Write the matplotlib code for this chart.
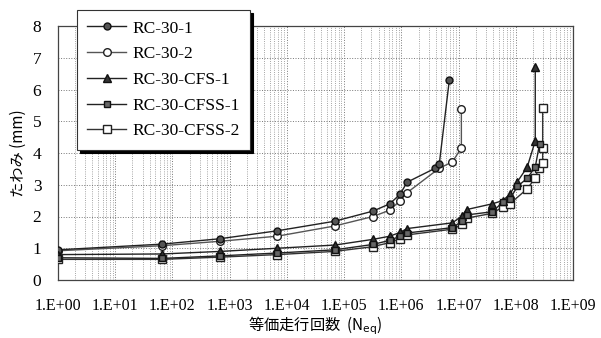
"""
    たわみ vs 等価走行回数 (log scale) for the RC-30 specimens
"""

import matplotlib
matplotlib.use("Agg")
from matplotlib import pyplot as plt

# equivalent running counts (N_eq) and deflections (mm)
n_rc1 = [1, 66, 680, 6800, 68000, 3.2e5, 6.3e5, 9.5e5, 1.26e6, 3.9e6, 4.6e6, 6.9e6]
d_rc1 = [0.95, 1.13, 1.30, 1.55, 1.85, 2.17, 2.40, 2.70, 3.08, 3.52, 3.65, 6.30]

n_rc2 = [1, 66, 680, 6800, 68000, 3.2e5, 6.3e5, 9.5e5, 1.26e6, 4.6e6, 7.8e6, 1.12e7, 1.12e7]
d_rc2 = [0.92, 1.08, 1.22, 1.38, 1.70, 2.00, 2.20, 2.50, 2.75, 3.52, 3.72, 4.16, 5.40]

n_cfs1 = [1, 66, 680, 6800, 68000, 3.2e5, 6.3e5, 9.5e5, 1.26e6, 7.8e6, 1.15e7, 1.4e7,
          3.9e7, 5.9e7, 7.9e7, 1.07e8, 1.58e8, 2.19e8, 2.19e8]
d_cfs1 = [0.80, 0.82, 0.90, 1.00, 1.10, 1.28, 1.38, 1.50, 1.62, 1.80, 2.02, 2.22,
          2.40, 2.50, 2.70, 3.10, 3.55, 4.38, 6.70]

n_cfss1 = [1, 66, 680, 6800, 68000, 3.2e5, 6.3e5, 9.5e5, 1.26e6, 7.8e6, 1.15e7, 1.4e7,
           3.9e7, 5.9e7, 7.9e7, 1.07e8, 1.58e8, 2.19e8, 2.6e8]
d_cfss1 = [0.70, 0.68, 0.76, 0.85, 0.95, 1.12, 1.25, 1.38, 1.48, 1.65, 1.85, 2.05,
           2.15, 2.45, 2.55, 2.95, 3.20, 3.56, 4.28]

n_cfss2 = [1, 66, 680, 6800, 68000, 3.2e5, 6.3e5, 9.5e5, 1.26e6, 7.8e6, 1.15e7, 1.4e7,
           3.9e7, 5.9e7, 7.9e7, 1.58e8, 2.19e8, 2.5e8, 2.95e8, 2.95e8, 2.95e8]
d_cfss2 = [0.65, 0.65, 0.72, 0.80, 0.90, 1.05, 1.18, 1.30, 1.42, 1.60, 1.75, 1.95,
           2.10, 2.30, 2.40, 2.87, 3.21, 3.53, 3.68, 4.16, 5.42]

labels = ["RC-30-1", "RC-30-2", "RC-30-CFS-1", "RC-30-CFSS-1", "RC-30-CFSS-2"]
xticks = [10.0 ** k for k in range(10)]
xtick_labels = ["1.E+%02d" % k for k in range(10)]

serif = ["Liberation Serif", "DejaVu Serif"]
jp = ["Noto Sans CJK JP", "Liberation Serif"]

fig = plt.figure(figsize=(6.01, 3.38), dpi=100)
ax = fig.add_axes([58 / 601, 1 - 280 / 338, 515 / 601, 254 / 338])

# series styles
ax.plot(n_rc1, d_rc1, color="#222222", lw=1.0, marker="o", ms=5,
        mfc="#555555", mec="#111111", label=labels[0], zorder=5)
ax.plot(n_rc2, d_rc2, color="#555555", lw=1.0, marker="o", ms=5.5,
        mfc="white", mec="#222222", label=labels[1], zorder=4)
ax.plot(n_cfs1, d_cfs1, color="#222222", lw=1.0, marker="^", ms=5.5,
        mfc="#333333", mec="#111111", label=labels[2], zorder=5)
ax.plot(n_cfss1, d_cfss1, color="#222222", lw=1.0, marker="s", ms=5,
        mfc="#666666", mec="#111111", label=labels[3], zorder=5)
ax.plot(n_cfss2, d_cfss2, color="#333333", lw=1.0, marker="s", ms=5.5,
        mfc="white", mec="#222222", label=labels[4], zorder=4)

ax.set_xscale("log")
ax.set_xlim(1, 1e9)
ax.set_ylim(0, 8)
ax.set_xticks(xticks)
ax.set_xticklabels(xtick_labels, fontfamily=serif, fontsize=11.5)
ax.set_yticks(range(9))
ax.set_yticklabels([str(v) for v in range(9)], fontfamily=serif, fontsize=12.5)
ax.tick_params(axis="both", which="both", length=0)
ax.tick_params(axis="x", pad=13)
ax.tick_params(axis="y", pad=12)

# dotted grid
ax.grid(True, which="major", axis="both", color="#777777", lw=0.7, ls=":")
ax.grid(True, which="minor", axis="x", color="#888888", lw=0.6, ls=":")
for s in ax.spines.values():
    s.set_color("#444444")
    s.set_linewidth(0.9)

ax.set_xlabel("等価走行回数  (N$_{\\rm eq}$)", fontfamily=jp, fontsize=11, labelpad=0)
ax.set_ylabel("たわみ (mm)", fontfamily=jp, fontsize=11, labelpad=4)

leg = ax.legend(loc="upper left", bbox_to_anchor=(77 / 601, 1 - 10 / 338),
                bbox_transform=fig.transFigure, borderaxespad=0,
                prop={"family": serif, "size": 12.5}, frameon=True, fancybox=False,
                shadow={"color": "black", "alpha": 1.0}, handlelength=2.2,
                labelspacing=0.55, borderpad=0.6, handletextpad=0.4)
leg.get_frame().set_edgecolor("#333333")
leg.get_frame().set_linewidth(0.8)
leg.set_zorder(10)

plt.savefig("out.png", dpi=100)
